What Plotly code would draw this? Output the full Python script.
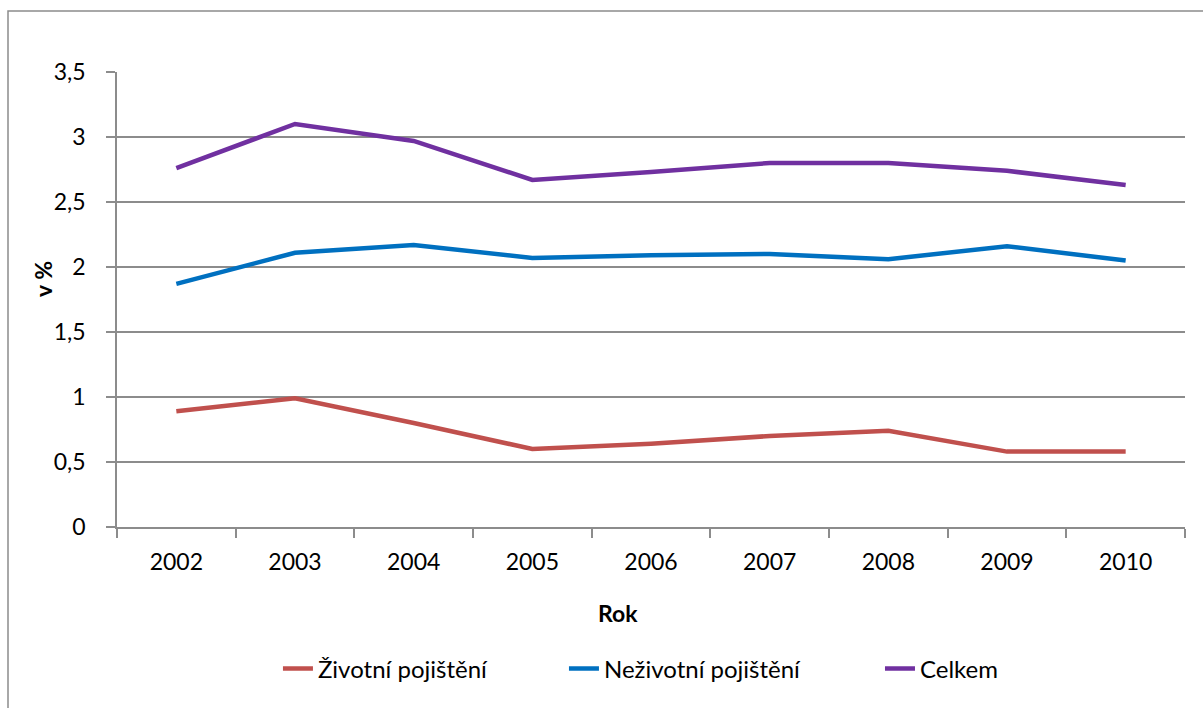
import plotly.graph_objects as go

# Data
years = ["2002", "2003", "2004", "2005", "2006", "2007", "2008", "2009", "2010"]
zivotni = [0.89, 0.99, 0.80, 0.60, 0.64, 0.70, 0.74, 0.58, 0.58]
nezivotni = [1.87, 2.11, 2.17, 2.07, 2.09, 2.10, 2.06, 2.16, 2.05]
celkem = [2.76, 3.10, 2.97, 2.67, 2.73, 2.80, 2.80, 2.74, 2.63]

series_names = ["Životní pojištění", "Neživotní pojištění", "Celkem"]
series_values = [zivotni, nezivotni, celkem]
series_colors = ["#C0504D", "#0070C0", "#7030A0"]
legend_ids = ["legend", "legend2", "legend3"]
legend_x = [0.1507, 0.4185, 0.7144]

FONT = "Lato, Calibri, Carlito, sans-serif"
GRID = "#8C8C8C"

fig = go.Figure()
for name, vals, color, lg in zip(series_names, series_values, series_colors, legend_ids):
    fig.add_trace(go.Scatter(
        x=years, y=vals, name=name, mode="lines",
        line=dict(color=color, width=4.5),
        legend=lg,
    ))

legend_common = dict(
    orientation="h", yanchor="middle", y=-0.312, xanchor="left",
    font=dict(family=FONT, size=24, color="#000000"),
    bgcolor="rgba(0,0,0,0)", itemwidth=30, tracegroupgap=0,
)
fig.update_layout(
    width=1203, height=708,
    margin=dict(l=117, r=18, t=72, b=181),
    paper_bgcolor="white", plot_bgcolor="white",
    separators=", ",
    font=dict(family=FONT, size=22, color="#000000"),
    showlegend=True,
    legend=dict(x=legend_x[0], **legend_common),
    legend2=dict(x=legend_x[1], **legend_common),
    legend3=dict(x=legend_x[2], **legend_common),
    xaxis=dict(
        type="category", range=[-0.5, 8.5],
        showgrid=False, showline=True, linecolor=GRID, linewidth=1.5,
        ticks="outside", tickson="boundaries", ticklen=9, tickcolor=GRID,
        tickwidth=1.5, tickfont=dict(family=FONT, size=23),
        ticklabelstandoff=14,
    ),
    yaxis=dict(
        range=[0, 3.5], dtick=0.5, tick0=0,
        showgrid=True, gridcolor=GRID, gridwidth=1.5,
        showline=True, linecolor=GRID, linewidth=1.5,
        ticks="outside", ticklen=9, tickcolor=GRID, tickwidth=1.5,
        tickfont=dict(family=FONT, size=23),
        ticklabelstandoff=16,
        zeroline=False,
    ),
    annotations=[
        dict(text="<b>Rok</b>", xref="paper", yref="paper",
             x=(618 - 117) / 1068, y=(527 - 613) / 455,
             xanchor="center", yanchor="middle", showarrow=False,
             font=dict(family=FONT, size=23)),
        dict(text="<b>v %</b>", xref="paper", yref="paper",
             x=(43 - 117) / 1068, y=(527 - 279) / 455, textangle=-90,
             xanchor="center", yanchor="middle", showarrow=False,
             font=dict(family=FONT, size=23)),
    ],
    shapes=[
        dict(type="rect", xref="paper", yref="paper",
             x0=(8 - 117) / 1068, x1=(1240 - 117) / 1068,
             y0=(527 - 760) / 455, y1=(527 - 11) / 455,
             line=dict(color="#8C8C8C", width=1.5), fillcolor="rgba(0,0,0,0)",
             layer="below"),
    ],
)

fig.write_html("out.html")
